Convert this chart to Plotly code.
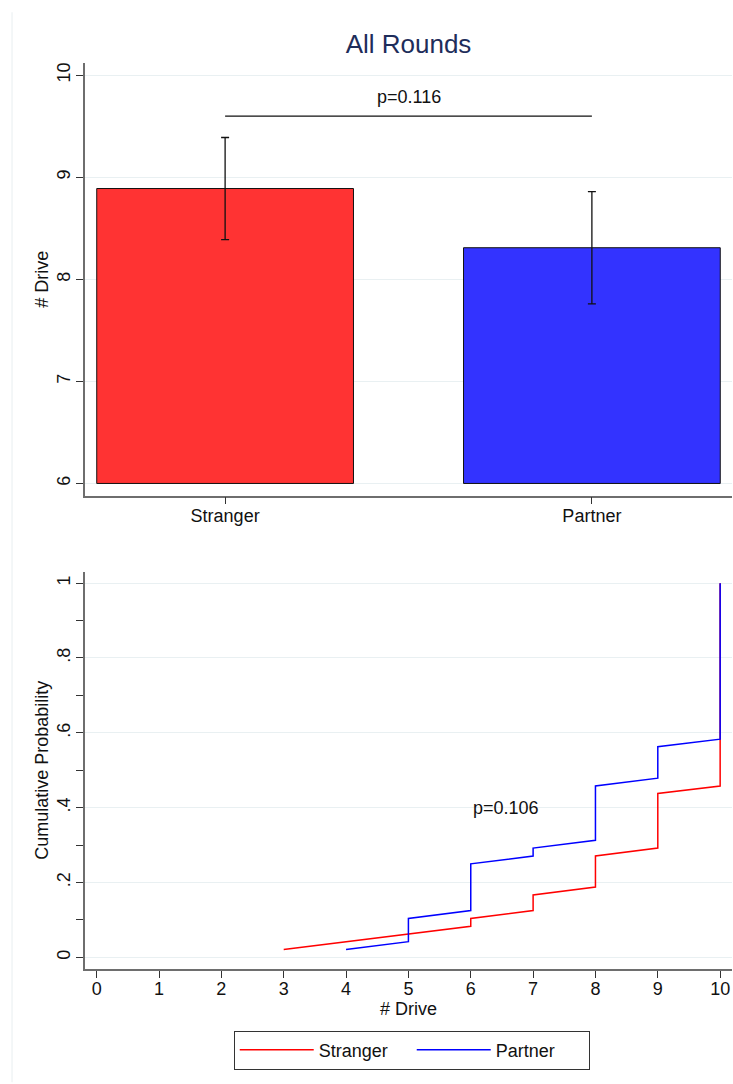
import plotly.graph_objects as go

# ---- data ----
groups = ["Stranger", "Partner"]
mean_drive = [8.89, 8.31]
ci_half = [0.50, 0.55]
bar_colors = ["#ff3333", "#3333ff"]
p_bar = "p=0.116"

stranger_x = [3, 4, 5, 6, 6, 7, 7, 8, 8, 9, 9, 10, 10]
stranger_cum = [0.021, 0.042, 0.063, 0.083, 0.104, 0.125, 0.167, 0.188, 0.271, 0.292, 0.438, 0.458, 1.0]
partner_x = [4, 5, 5, 6, 6, 7, 7, 8, 8, 9, 9, 10, 10]
partner_cum = [0.021, 0.042, 0.104, 0.125, 0.25, 0.271, 0.292, 0.313, 0.458, 0.479, 0.563, 0.583, 1.0]
p_cdf = "p=0.106"
line_colors = ["#ff0000", "#0000ff"]

bar_yticks = [6, 7, 8, 9, 10]
cdf_yticks = [0, 0.2, 0.4, 0.6, 0.8, 1.0]
cdf_yticktext = ["0", ".2", ".4", ".6", ".8", "1"]
cdf_xticks = list(range(0, 11))

FONT = "Liberation Sans, Arial, sans-serif"
GRID = "#e9f0f2"
AXIS = "#6e6e6e"
FS = 18

fig = go.Figure()

for i, g in enumerate(groups):
    fig.add_trace(go.Bar(
        x=[i], y=[mean_drive[i] - 6], base=6, width=0.7,
        marker=dict(color=bar_colors[i], line=dict(color="#111111", width=1)),
        error_y=dict(type="data", array=[ci_half[i]], color="#111111", thickness=1.3, width=4),
        showlegend=False, xaxis="x", yaxis="y", hoverinfo="skip"))

fig.add_trace(go.Scatter(x=stranger_x, y=stranger_cum, mode="lines", name="Stranger",
                         line=dict(color=line_colors[0], width=1.5), xaxis="x2", yaxis="y2"))
fig.add_trace(go.Scatter(x=partner_x, y=partner_cum, mode="lines", name="Partner",
                         line=dict(color=line_colors[1], width=1.5), xaxis="x2", yaxis="y2"))

# significance bracket
fig.add_shape(type="line", xref="x", yref="y", x0=0, x1=1, y0=9.6, y1=9.6,
              line=dict(color="#111111", width=1.3))
fig.add_annotation(xref="x", yref="y", x=0.5, y=9.79, text=p_bar, showarrow=False,
                   yanchor="middle", font=dict(size=FS, color="#111111", family=FONT))
fig.add_annotation(xref="x2", yref="y2", x=6.57, y=0.40, text=p_cdf, showarrow=False,
                   font=dict(size=FS, color="#111111", family=FONT))

# faint outer border line on the left
fig.add_shape(type="line", xref="paper", yref="paper", x0=-0.1128, x1=-0.1128, y0=-0.125, y1=1.056,
              line=dict(color="#e8eef0", width=1))

axis_common = dict(showline=True, linecolor=AXIS, linewidth=1.5, ticks="outside", ticklen=7,
                   tickcolor="#333333", tickwidth=1.2, zeroline=False,
                   tickfont=dict(size=FS, color="#111111", family=FONT))

fig.update_layout(
    width=733, height=1084,
    margin=dict(l=85, r=1, t=63, b=115),
    paper_bgcolor="white", plot_bgcolor="white",
    font=dict(family=FONT, color="#111111", size=FS),
    title=dict(text="All Rounds", x=0.5, xref="paper", xanchor="center", y=0.9594, yanchor="middle",
               font=dict(size=26, color="#1e2d5a", family=FONT)),
    xaxis=dict(domain=[0, 1], anchor="y", range=[-0.382, 1.382], tickvals=[0, 1], ticktext=groups,
               showgrid=False, ticklabelstandoff=-4, **axis_common),
    yaxis=dict(domain=[0.5224, 1.0], anchor="x", range=[5.88, 10.12], tickvals=bar_yticks,
               tickangle=-90, showgrid=True, gridcolor=GRID, gridwidth=1.2, ticklabelstandoff=-1,
               title=dict(text="# Drive", font=dict(size=FS, family=FONT), standoff=1),
               **axis_common),
    xaxis2=dict(domain=[0, 1], anchor="y2", range=[-0.187, 10.19], tickvals=cdf_xticks,
                showgrid=False, ticklabelstandoff=-4,
                title=dict(text="# Drive", font=dict(size=FS, family=FONT), standoff=2),
                **axis_common),
    yaxis2=dict(domain=[0, 0.4387], anchor="x2", range=[-0.031, 1.031], tickvals=cdf_yticks,
                ticktext=cdf_yticktext, tickangle=-90, showgrid=True, gridcolor=GRID, gridwidth=1.2,
                ticklabelstandoff=-1,
                minor=dict(dtick=0.1, tick0=0, ticks="outside", ticklen=7, tickcolor="#333333",
                           tickwidth=1.2, showgrid=False),
                title=dict(text="Cumulative Probability", font=dict(size=FS, family=FONT), standoff=1),
                **axis_common),
    legend=dict(orientation="h", x=0.505, xanchor="center", y=-0.068, yanchor="top",
                bordercolor="#333333", borderwidth=1, bgcolor="white",
                font=dict(size=FS, color="#111111", family=FONT), itemwidth=74,
                entrywidth=88, traceorder="normal"),
    showlegend=True,
)

fig.write_html("out.html", config={"displayModeBar": False})
